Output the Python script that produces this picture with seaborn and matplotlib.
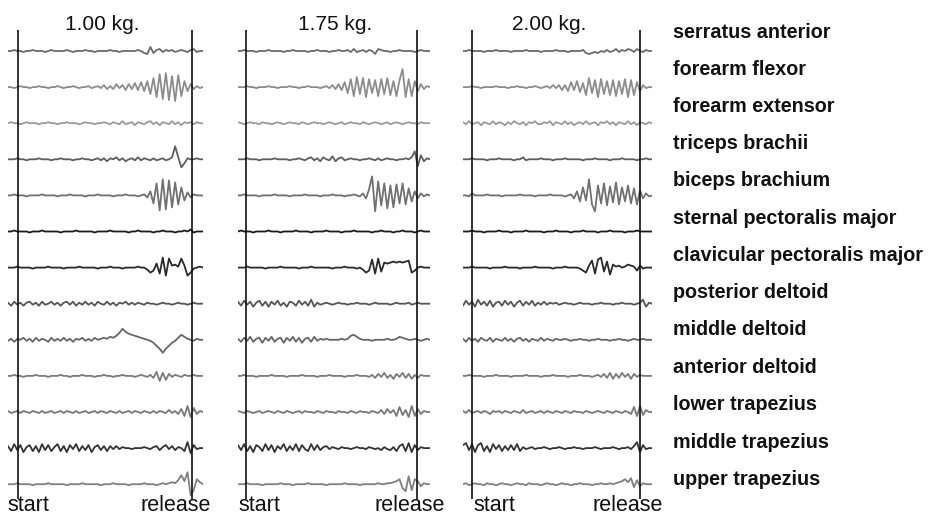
import numpy as np
import pandas as pd
import matplotlib
matplotlib.use("Agg")
import matplotlib.pyplot as plt
import seaborn as sns

# ---------------- data ----------------
LOADS = ["1.00 kg.", "1.75 kg.", "2.00 kg."]
MUSCLES = ["serratus anterior", "forearm flexor", "forearm extensor",
           "triceps brachii", "biceps brachium", "sternal pectoralis major",
           "clavicular pectoralis major", "posterior deltoid", "middle deltoid",
           "anterior deltoid", "lower trapezius", "middle trapezius",
           "upper trapezius"]
EVENTS = ["start", "release"]
# event times in sample units (64 samples per trace)
START_K = [3.2, 2.6, 3.0]
RELEASE_K = [59.4, 58.7, 59.0]

# EMG traces (sample index 0..63, amplitude in px, + = up)
P100 = [
    [0,0,1,0,0,-1,0,0,1,0,0,0,-1,0,1,0, 0,0,0,1,0,-1,0,0,0,1,0,0,-1,0,0,0, 0,1,0,0,-1,0,0,0,0,0,1,0,-2,-3,4,-2, 1,2,-1,1,0,1,-1,0,1,0,-1,1,2,-1,0,0],
    [0,0,-1,0,1,0,0,-1,0,0,1,0,0,-1,0,0, 1,0,-1,0,0,1,0,-1,0,0,1,-1,0,1,-1,2, -2,1,-2,3,-1,2,-3,3,-2,4,-3,5,-4,6,-7,9, -10,13,-12,14,-13,11,-14,12,-9,6,-4,3,-2,1,-1,0],
    [0,1,0,0,-1,0,1,0,0,0,-1,0,0,1,0,0, -1,0,0,1,0,0,0,-1,0,1,0,0,-1,0,0,1, 0,-1,1,0,-1,2,-1,0,1,-2,1,0,-1,1,2,-1, 1,-2,1,0,-1,2,-1,1,-2,1,0,1,-1,1,0,0],
    [0,0,0,1,0,0,-1,0,0,0,1,0,0,0,-1,0, 0,1,0,0,0,-1,0,0,1,0,0,-1,0,1,-1,1, -2,1,0,2,-1,1,-2,0,1,-1,2,-1,1,0,-1,1, -1,0,1,-1,0,2,13,2,-8,-4,1,0,0,1,0,0],
    [0,0,1,0,0,0,-1,0,0,0,0,1,0,0,0,0, -1,0,0,0,1,0,0,0,0,-1,0,0,0,1,0,0, 0,0,-1,0,0,0,1,0,0,0,-1,0,1,-2,4,-8, 12,-15,16,-14,15,-12,13,-9,8,-5,3,-2,1,0,0,0],
    [0,0,1,0,0,0,0,-1,0,0,0,1,0,0,0,0, 0,-1,0,0,0,0,1,0,0,0,0,0,-1,0,0,0, 0,1,0,0,0,0,0,-1,0,0,1,0,0,0,0,-1, 0,0,1,0,0,0,-1,0,0,1,0,2,-1,0,0,0],
    [0,0,0,1,0,0,0,0,-1,0,0,0,0,1,0,0, 0,0,-1,0,0,0,0,1,0,0,0,0,0,-1,0,0, 0,1,0,0,0,-1,0,0,0,0,1,0,0,-2,-5,-3, 4,-6,10,-8,9,2,3,1,9,2,-8,-5,-1,0,1,0],
    [1,-2,2,-1,1,-2,1,2,-1,1,-2,2,-1,0,2,-1, 1,-2,1,2,-1,2,-2,1,-1,2,-1,1,-2,2,0,-1, 2,-1,1,-2,1,0,2,-1,1,-1,1,0,-1,1,0,0, -1,0,1,0,0,-1,0,1,0,0,-1,0,1,0,0,0],
    [-1,1,-2,1,0,2,-1,1,-2,2,-1,1,0,-2,2,-1, 1,-1,2,-1,1,-2,1,0,2,-1,1,-1,2,0,1,2, 1,3,2,4,7,11,8,6,5,4,3,2,1,0,-1,-3, -6,-9,-13,-9,-6,-3,-1,2,5,3,1,0,-1,1,0,0],
    [0,0,1,0,0,-1,0,0,0,1,0,0,0,-1,0,0, 0,1,0,0,-1,0,0,0,1,0,0,0,-1,0,0,1, 0,0,-1,0,0,1,0,0,0,-1,0,1,0,-1,1,-2, 4,-5,3,-4,2,-1,1,0,-1,1,0,0,1,0,0,0],
    [1,-1,0,1,-1,1,0,-1,1,0,-1,1,-1,0,1,-1, 0,1,-1,1,0,-1,1,-1,0,1,-1,0,1,-1,1,0, -1,1,0,-1,1,-1,0,1,-1,1,0,-1,1,0,-1,1, -1,1,0,-1,2,-1,1,-2,3,-4,6,-5,4,-2,1,0],
    [2,-3,4,-2,3,-4,1,3,-3,2,-4,4,-2,3,-3,1, 4,-3,2,-4,3,-1,4,-3,2,-2,3,-4,1,3,-2,2, -3,2,-1,2,-1,1,0,0,-1,0,0,0,1,0,-1,1, 2,-2,1,3,-1,2,-2,1,0,-3,6,-5,3,-1,0,0],
    [0,0,0,1,0,0,0,0,-1,0,0,0,0,1,0,0, 0,0,0,-1,0,0,0,0,1,0,0,0,0,0,-1,0, 0,0,1,0,0,0,0,-1,0,0,0,0,1,0,0,0, -1,0,1,0,1,2,1,4,9,3,12,-11,-6,5,2,0],
]
P175 = [
    [0,0,1,0,0,0,-1,0,0,0,1,0,0,0,0,-1, 0,0,1,0,0,0,0,-1,0,0,1,0,0,0,-1,0, 0,1,0,0,1,-1,2,-1,0,1,-1,1,0,-3,2,1, 0,0,-1,0,0,1,0,0,0,0,-1,0,1,0,0,0],
    [0,0,0,1,0,0,-1,0,0,0,1,0,0,-1,0,0, 0,1,0,0,-1,0,0,1,0,0,0,-1,0,1,-1,2, -2,3,-3,5,-6,8,-9,10,-7,9,-10,8,-6,7,-9,8, -7,9,-8,6,-9,7,18,-10,8,-9,6,-4,3,-2,1,0],
    [1,0,-1,0,1,0,0,-1,1,0,0,-1,0,1,0,-1, 0,1,0,0,-1,1,0,-1,0,1,0,0,-1,0,1,0, -1,0,1,-1,0,1,0,0,-1,1,0,-1,0,1,0,-1, 0,1,-1,0,1,0,-1,0,1,0,0,-1,1,0,0,0],
    [0,0,0,1,0,0,0,-1,0,0,0,0,1,0,0,0, 0,-1,0,0,1,0,-1,1,2,-1,1,-2,2,0,-1,3, -2,1,2,-1,0,1,0,0,-1,0,0,1,0,-1,1,-1, 0,1,0,0,-1,0,0,1,0,2,8,-7,4,-2,1,0],
    [0,0,1,0,0,0,0,-1,0,0,0,0,1,0,0,0, 0,-1,0,0,0,0,1,0,0,0,0,-1,0,0,0,1, 0,0,0,-1,0,0,1,0,-1,2,-3,6,19,-16,14,-10, 12,-13,10,-12,11,-8,12,-9,7,-6,4,-3,2,-1,1,0],
    [0,1,0,0,0,-1,0,0,0,0,1,0,0,0,-1,0, 0,0,0,1,0,0,0,0,-1,0,0,0,0,1,0,0, 0,0,-1,0,0,0,1,0,0,0,0,0,-1,0,0,1, 0,0,0,-1,0,0,1,0,0,0,-1,0,1,0,0,0],
    [0,0,0,1,0,0,0,0,0,-1,0,0,0,0,1,0, 0,0,0,0,-1,0,0,0,1,0,0,0,0,0,0,-1, 0,0,0,1,0,0,0,-1,0,-2,-5,-3,8,-6,9,-4, 5,4,5,6,5,6,5,6,7,-5,-3,0,1,0,0,0],
    [2,-2,3,-1,2,-3,1,3,-2,2,-3,2,-1,3,-2,1, -3,2,1,-2,3,-1,2,-2,4,-3,1,-1,0,1,0,-1, 0,1,0,0,-1,0,0,1,0,0,0,-1,0,1,0,0, 0,0,-1,0,1,0,0,0,1,-1,0,1,0,0,0,0],
    [1,-2,2,-1,3,-2,1,2,-3,2,-1,3,-2,1,2,-3, 2,-1,3,-2,2,-3,1,2,-2,3,-1,1,0,1,0,0, 0,0,1,0,1,4,5,3,1,0,0,0,-1,0,0,0, 0,1,0,0,1,3,2,1,0,0,1,0,-1,0,1,0],
    [0,0,1,0,0,0,-1,0,0,0,0,1,0,0,0,0, -1,0,0,0,0,1,0,0,0,0,-1,0,0,0,1,0, 0,0,0,-1,0,0,0,1,0,0,0,-1,1,-2,2,-1, 3,-2,1,-3,2,-1,3,-2,2,-3,1,-2,1,0,0,0],
    [1,0,-1,1,0,-1,0,1,-1,0,1,0,-1,1,0,-1, 1,0,-1,0,1,-1,1,0,0,-1,1,0,-1,1,0,0, -1,1,0,0,-1,1,0,-1,1,0,0,-1,1,0,-1,2, -2,3,-1,2,-4,5,-3,2,-5,6,-4,3,-2,1,0,0],
    [3,-2,4,-3,2,-4,3,1,-3,4,-2,3,-4,2,-1,4, -3,2,-2,4,-3,3,-1,-3,4,-2,3,-2,1,2,-1,1, 0,-1,1,0,0,-1,0,1,0,0,-1,1,0,-1,0,-2, 1,-1,-2,1,-3,2,4,-3,5,-4,3,-2,1,0,0,0],
    [0,0,0,1,0,0,0,0,-1,0,0,0,0,0,1,0, 0,0,-1,0,0,0,0,1,0,0,0,0,0,-1,0,0, 0,0,0,1,0,0,0,0,-1,0,0,0,0,0,1,0, 0,1,1,2,3,5,-4,-7,8,-6,5,3,-2,1,0,0],
]
P200 = [
    [0,0,1,0,0,0,0,-1,0,0,0,1,0,0,0,0, -1,0,0,0,0,1,0,0,0,0,-1,0,0,0,0,1, 0,0,0,-1,0,0,0,0,1,-2,-3,-2,-1,-2,0,-1, 1,-1,0,2,-1,1,0,2,1,-1,2,0,-1,1,0,0],
    [0,0,0,1,0,0,-1,0,0,0,0,1,0,0,0,-1, 0,0,1,0,0,-1,0,0,1,0,-1,0,1,-1,2,-1, 2,-3,2,-4,5,-3,6,-5,4,-8,9,-6,7,-10,8,-7, 6,-8,7,-9,6,-7,8,-10,7,-8,5,-4,2,-1,0,0],
    [1,-1,2,-1,0,1,-2,1,0,-1,2,-1,1,0,-2,1, -1,2,0,-1,1,-2,1,0,2,-1,-1,1,0,2,-2,1, 0,-1,2,-1,1,-2,0,1,-1,2,-1,0,1,-2,1,0, 2,-1,1,-2,1,0,-1,2,-1,1,-2,1,0,-1,1,0],
    [0,0,0,1,0,0,0,0,-1,0,0,0,1,0,0,0, 0,-1,0,0,2,-1,0,0,0,0,1,0,0,0,-1,0, 0,0,1,0,0,0,0,0,-1,0,0,0,1,0,0,0, 0,-1,0,0,0,1,0,0,0,0,-1,0,0,1,0,0],
    [0,0,-1,2,0,0,0,0,1,0,0,0,0,-1,0,0, 0,0,0,1,0,0,0,0,-1,0,0,0,0,1,0,0, 0,0,-1,0,1,-3,4,-6,8,-5,16,-9,-16,10,-8,12, -10,9,-7,13,-9,8,-6,10,-8,7,-9,5,-3,2,-1,0],
    [0,0,0,1,0,0,0,-1,0,0,0,0,1,0,0,0, -1,0,0,0,0,1,0,0,0,0,0,-1,0,0,0,1, 0,0,0,0,-1,0,0,0,1,0,0,0,0,-1,0,0, 0,1,0,0,0,0,-1,0,0,0,1,0,0,0,0,0],
    [0,0,0,1,0,0,0,0,0,-1,0,0,0,0,1,0, 0,0,0,-1,0,0,0,0,1,0,0,0,0,0,-1,0, 0,0,1,0,0,0,0,-1,-3,-5,2,7,-6,8,10,-4, 6,-7,3,1,2,0,1,3,2,1,-3,2,-1,0,0,0],
    [-2,3,-1,2,-3,4,-1,2,-2,3,-3,1,2,-2,3,-1, 2,-3,1,3,-2,2,-1,3,-2,1,-1,2,-1,1,0,1, -1,0,1,0,0,-1,0,1,0,0,0,-1,0,0,1,0, 0,0,-1,0,0,1,0,0,0,-1,0,1,4,-3,1,0],
    [1,-2,2,-1,1,-2,2,0,-1,2,-2,1,0,-1,2,-1, 1,-2,1,2,-1,1,-2,1,0,-1,2,-1,1,0,-1,1, 0,0,1,0,-1,0,0,1,0,0,-1,0,0,1,0,0, 0,-1,0,0,1,0,0,-1,0,1,0,0,1,0,0,0],
    [0,0,1,0,0,0,0,-1,0,0,0,1,0,0,0,0, -1,0,0,0,0,1,0,0,0,0,-1,0,0,0,1,0, 0,0,0,-1,0,0,0,1,0,0,0,-1,0,1,-1,2, -2,3,-3,2,-2,3,-1,2,-3,2,-1,1,0,0,0,0],
    [1,-1,2,-1,0,1,-1,1,0,-2,1,0,1,-1,1,0, -1,1,0,-1,2,-1,0,1,-1,0,1,-1,1,0,-1,1, 0,-1,1,0,-1,1,0,0,-1,1,0,-1,0,1,0,-1, 1,0,-1,1,0,-1,1,0,-2,5,-4,6,-3,2,0,0],
    [3,5,-2,4,-4,3,5,-3,2,-4,4,-1,3,-3,2,-2, 3,-2,4,-3,1,-1,0,1,-1,0,0,1,0,-1,0,0, 1,0,-1,0,0,1,0,0,-1,0,0,0,1,0,-1,0, 0,0,1,0,-1,0,0,1,-1,2,6,-4,3,-1,0,0],
    [0,1,-1,0,1,0,0,-1,1,0,0,-1,0,1,0,0, -1,0,1,0,0,-1,1,0,0,0,-1,0,1,0,0,-1, 0,1,0,0,-1,0,0,1,0,0,0,-1,0,0,1,0, 0,1,0,1,2,3,5,2,6,-3,4,-2,1,0,0,0],
]

# ---------------- layout / style ----------------
W, H = 931, 517
TOP, ROW_GAP = 51, 36.1           # pixel y of first trace, spacing
TRACE_X = [(8, 203), (238, 430), (463, 652)]
TITLE_X = [65, 298, 512]
START_TX = [7, 238, 473]
RELEASE_TX = [140, 375, 592]
LABEL_X = 673
LABEL_Y = [38, 75, 112, 149, 186, 224, 261, 298, 335, 373, 410, 448, 485]
SHADES = ["#6a6a6a", "#8c8c8c", "#9a9a9a", "#5e5e5e", "#707070", "#1c1c1c",
          "#2a2a2a", "#555555", "#666666", "#7a7a7a", "#777777", "#333333",
          "#808080"]

sns.set_theme(style="white")
plt.rcParams["font.family"] = ["Liberation Sans", "DejaVu Sans"]

rows = []
for load, panel in zip(LOADS, [P100, P175, P200]):
    for i, (m, vals) in enumerate(zip(MUSCLES, panel)):
        for k, v in enumerate(vals):
            rows.append({"load": load, "muscle": m, "k": k, "y": -ROW_GAP * i + v})
df = pd.DataFrame(rows)
palette = dict(zip(MUSCLES, SHADES))

fig = plt.figure(figsize=(W / 100, H / 100), dpi=100)
fig.patch.set_facecolor("white")

for p, load in enumerate(LOADS):
    x0, x1 = TRACE_X[p]
    ax = fig.add_axes([x0 / W, 0, (x1 - x0) / W, 1])
    sub = df[df["load"] == load]
    sns.lineplot(data=sub, x="k", y="y", hue="muscle", palette=palette,
                 estimator=None, sort=False, legend=False, lw=1.3, ax=ax)
    ax.set_xlim(0, 63)
    ax.set_ylim(TOP - H, TOP)
    ax.vlines([START_K[p], RELEASE_K[p]], TOP - 499, TOP - 30,
              color="#111111", lw=1.2, zorder=5)
    ax.axis("off")
    fig.text(TITLE_X[p] / W, 1 - 30 / H, load, ha="left", va="baseline",
             fontsize=15, color="#111111")
    fig.text(START_TX[p] / W, 1 - 511 / H, EVENTS[0], ha="left", va="baseline",
             fontsize=15.5, color="#111111")
    fig.text(RELEASE_TX[p] / W, 1 - 511 / H, EVENTS[1], ha="left", va="baseline",
             fontsize=15.5, color="#111111")

for m, y in zip(MUSCLES, LABEL_Y):
    fig.text(LABEL_X / W, 1 - y / H, m, ha="left", va="baseline",
             fontsize=14.2, fontweight="bold", color="#111111")

fig.savefig("out.png", dpi=100, facecolor="white")
